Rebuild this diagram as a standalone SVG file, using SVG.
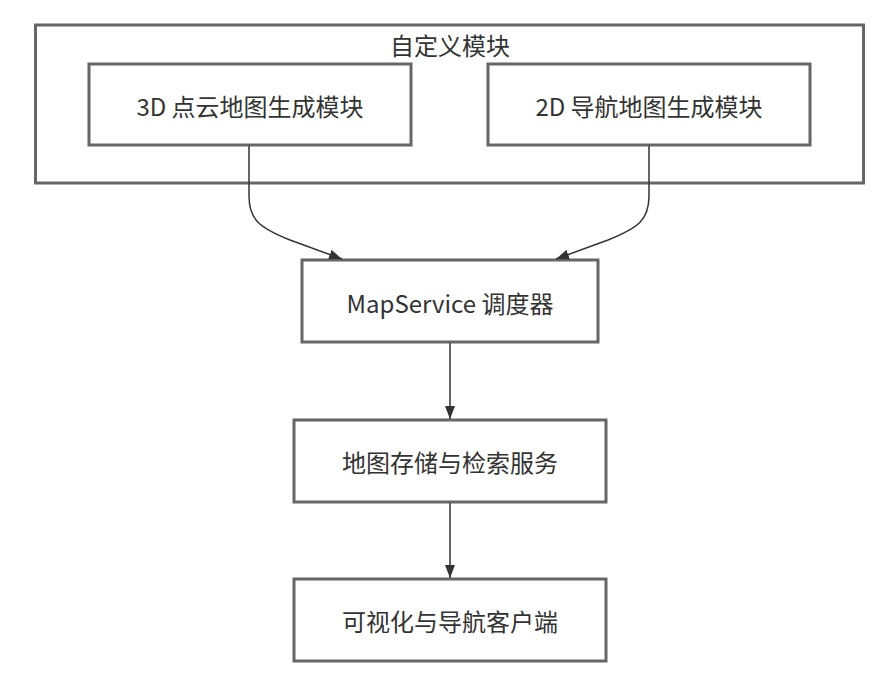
<svg xmlns="http://www.w3.org/2000/svg" width="890" height="680" viewBox="0 0 890 680">
<style>
.box{fill:#ffffff;stroke:#666666;stroke-width:3}
.lbl{font-family:"Noto Sans CJK SC","Noto Sans",sans-serif;font-size:24px;fill:#333333;text-anchor:middle;dominant-baseline:central}
.edge{fill:none;stroke:#333333;stroke-width:1.5}
</style>
<defs>
<marker id="arr" viewBox="0 0 13 10" refX="13" refY="5" markerWidth="13" markerHeight="10" markerUnits="userSpaceOnUse" orient="auto">
<path d="M0,0 L13,5 L0,10 z" fill="#333333"/>
</marker>
</defs>
<rect width="890" height="680" fill="#ffffff"/>
<g id="cluster-custom">
<rect class="box" x="35.5" y="25" width="828" height="158"/>
<text class="lbl" x="450" y="44">自定义模块</text>
</g>
<g id="node-3d">
<rect class="box" x="89" y="64" width="322" height="81"/>
<text class="lbl" x="250" y="105">3D 点云地图生成模块</text>
</g>
<g id="node-2d">
<rect class="box" x="488" y="64" width="322" height="81"/>
<text class="lbl" x="649" y="105">2D 导航地图生成模块</text>
</g>
<g id="node-mapservice">
<rect class="box" x="302" y="260" width="296" height="82"/>
<text class="lbl" x="450" y="302">MapService 调度器</text>
</g>
<g id="node-storage">
<rect class="box" x="294" y="420" width="312" height="82"/>
<text class="lbl" x="450" y="461">地图存储与检索服务</text>
</g>
<g id="node-client">
<rect class="box" x="294" y="579" width="312" height="82"/>
<text class="lbl" x="450" y="620">可视化与导航客户端</text>
</g>
<g id="connectors">
<path class="edge" d="M249,146 V196 C249,220 260,228 290,240 L342,259" marker-end="url(#arr)"/>
<path class="edge" d="M649,146 V196 C649,220 638,228 608,240 L556,259" marker-end="url(#arr)"/>
<path class="edge" d="M450,343 V419" marker-end="url(#arr)"/>
<path class="edge" d="M450,503 V578" marker-end="url(#arr)"/>
</g>
</svg>
